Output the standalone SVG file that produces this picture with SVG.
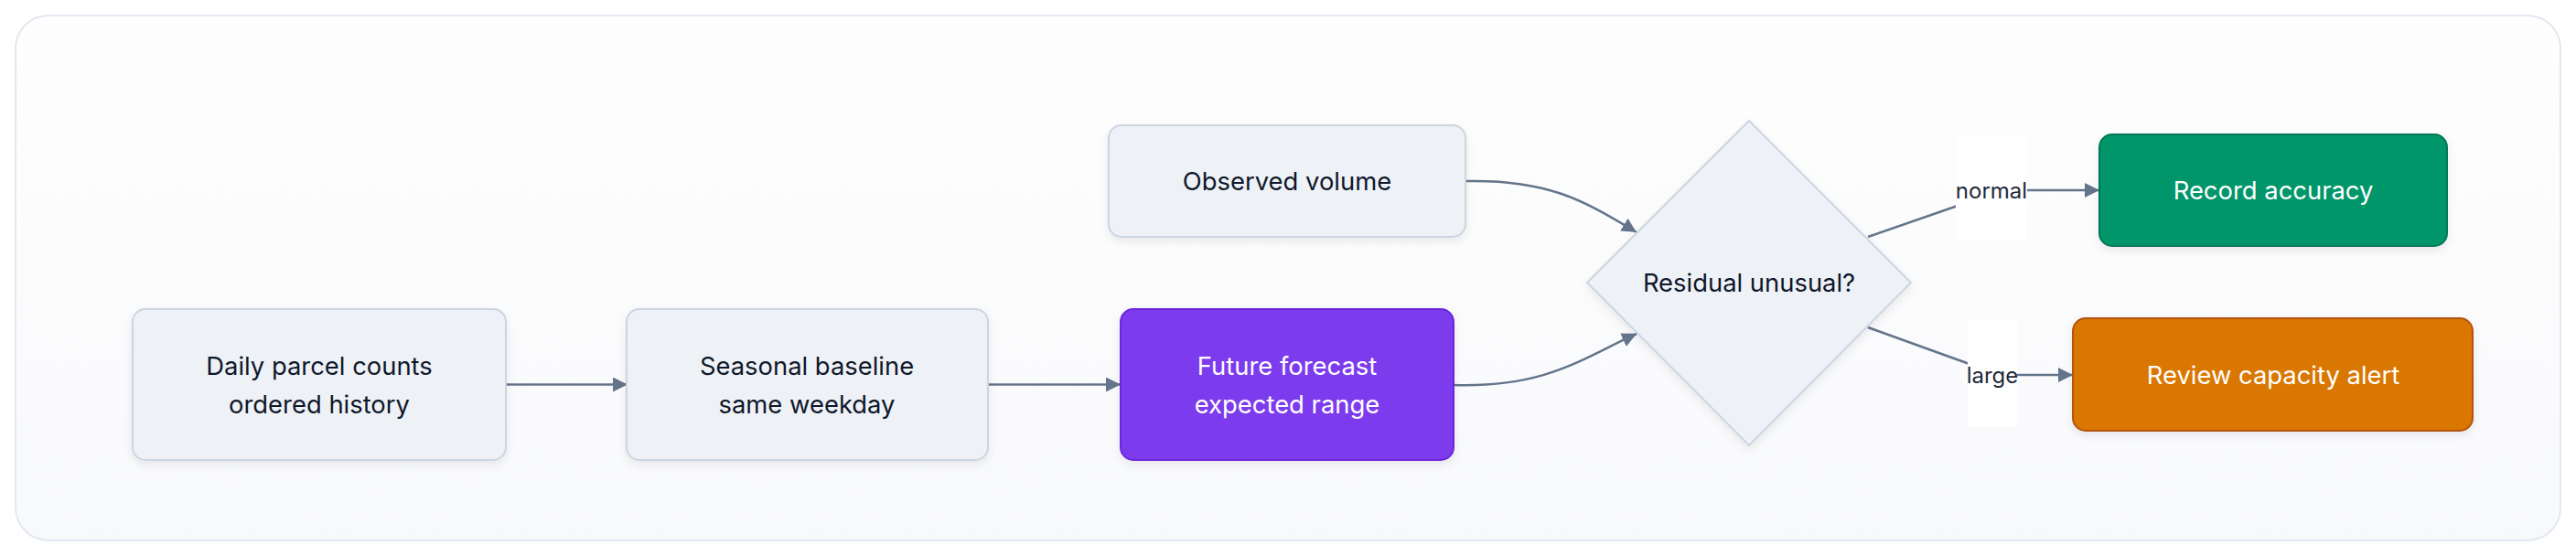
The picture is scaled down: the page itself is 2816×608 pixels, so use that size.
<svg xmlns="http://www.w3.org/2000/svg" width="2816" height="608" viewBox="0 0 2816 608">
<style>
.node rect,.node polygon{stroke-width:2}
.plain{fill:#eef2f7;stroke:#cbd5e1}
.t{font-family:Inter,"Liberation Sans",sans-serif;font-size:27.4px;text-anchor:middle;dominant-baseline:central}
.dark{fill:#0f172a}
.light{fill:#ffffff}
.edge{fill:none;stroke:#64748b;stroke-width:2.5}
.lbl{font-family:Inter,"Liberation Sans",sans-serif;font-size:24px;text-anchor:middle;dominant-baseline:central;fill:#1e293b}
.lblbg{fill:#ffffff}
</style>
<defs>
<linearGradient id="bg" x1="0" y1="0" x2="0" y2="1">
<stop offset="0" stop-color="#fefefe"/>
<stop offset="1" stop-color="#f8f9fb"/>
</linearGradient>
<filter id="sh" x="-10%" y="-10%" width="120%" height="130%">
<feDropShadow dx="0" dy="4" stdDeviation="5" flood-color="#0f172a" flood-opacity="0.08"/>
</filter>
<marker id="arr" viewBox="0 0 10 10" refX="10" refY="5" markerWidth="16" markerHeight="16" markerUnits="userSpaceOnUse" orient="auto">
<path d="M0,0 L10,5 L0,10 z" fill="#64748b"/>
</marker>
</defs>
<rect x="17" y="17" width="2782" height="574" rx="36" fill="url(#bg)" stroke="#e2e8f0" stroke-width="2"/>

<g id="connectors">
<path class="edge" d="M553,420.5 L686,420.5" marker-end="url(#arr)"/>
<path class="edge" d="M1080,420.5 L1225,420.5" marker-end="url(#arr)"/>
<path class="edge" d="M1602,198 C1690,196 1730,218 1789,254" marker-end="url(#arr)"/>
<path class="edge" d="M1589,421 C1690,424 1730,392 1789,365" marker-end="url(#arr)"/>
<path class="edge" d="M2042,259 L2140,225 Q2175,209 2215,208 L2295,208" marker-end="url(#arr)"/>
<path class="edge" d="M2042,358 L2150,397 Q2175,410 2210,410 L2266,410" marker-end="url(#arr)"/>
<g id="label-normal">
<rect class="lblbg" x="2138" y="150" width="78" height="113"/>
<text class="lbl" x="2177" y="208">normal</text>
</g>
<g id="label-large">
<rect class="lblbg" x="2151" y="350" width="54" height="117"/>
<text class="lbl" x="2178" y="410">large</text>
</g>
</g>

<g id="daily" class="node">
<rect class="plain" x="145" y="338" width="408" height="165" rx="14" filter="url(#sh)"/>
<text class="t dark" x="349" y="400">Daily parcel counts</text>
<text class="t dark" x="349" y="442">ordered history</text>
</g>
<g id="seasonal" class="node">
<rect class="plain" x="685" y="338" width="395" height="165" rx="14" filter="url(#sh)"/>
<text class="t dark" x="882" y="400">Seasonal baseline</text>
<text class="t dark" x="882" y="442">same weekday</text>
</g>
<g id="observed" class="node">
<rect class="plain" x="1212" y="137" width="390" height="122" rx="14" filter="url(#sh)"/>
<text class="t dark" x="1407" y="198">Observed volume</text>
</g>
<g id="forecast" class="node">
<rect x="1225" y="338" width="364" height="165" rx="14" fill="#7c3aed" stroke="#6d28d9" filter="url(#sh)"/>
<text class="t light" x="1407" y="400">Future forecast</text>
<text class="t light" x="1407" y="442">expected range</text>
</g>
<g id="residual" class="node">
<polygon class="plain" points="1912,132 2089,309 1912,487 1735,309" filter="url(#sh)"/>
<text class="t dark" x="1912" y="309">Residual unusual?</text>
</g>
<g id="record" class="node">
<rect x="2295" y="147" width="380" height="122" rx="14" fill="#059669" stroke="#047857" filter="url(#sh)"/>
<text class="t light" x="2485" y="208">Record accuracy</text>
</g>
<g id="review" class="node">
<rect x="2266" y="348" width="437" height="123" rx="14" fill="#d97706" stroke="#b45309" filter="url(#sh)"/>
<text class="t light" x="2485" y="410">Review capacity alert</text>
</g>
</svg>
